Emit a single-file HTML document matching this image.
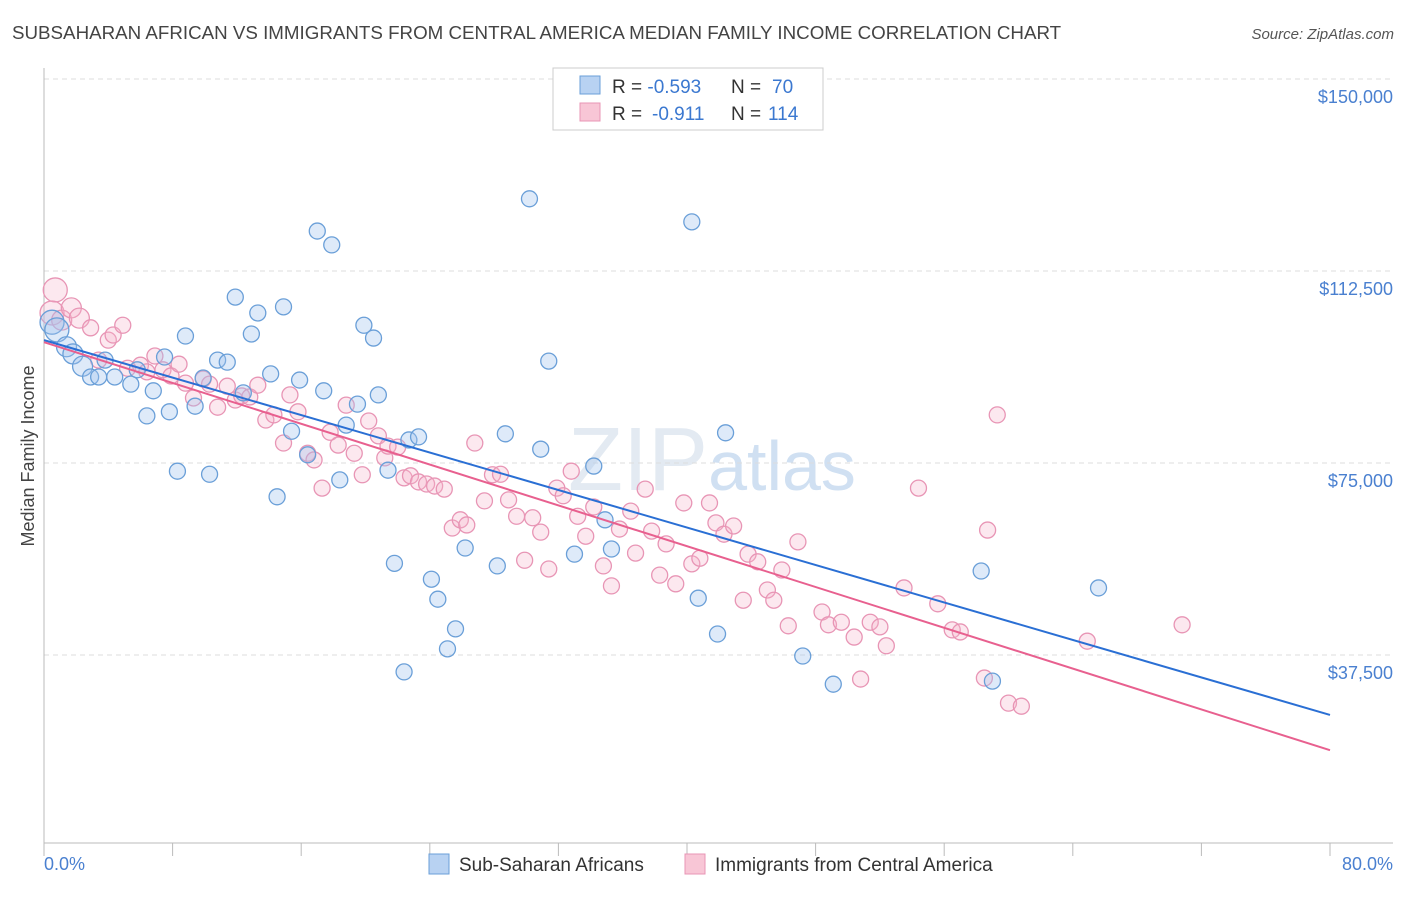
<!DOCTYPE html>
<html><head><meta charset="utf-8"><style>
body{margin:0;background:#fff;font-family:"Liberation Sans",sans-serif}
svg text{font-family:"Liberation Sans",sans-serif}
</style></head><body>
<svg id="chart" width="1406" height="892" viewBox="0 0 1406 892" xmlns="http://www.w3.org/2000/svg">
<text x="12" y="39" font-size="18.75" fill="#444">SUBSAHARAN AFRICAN VS IMMIGRANTS FROM CENTRAL AMERICA MEDIAN FAMILY INCOME CORRELATION CHART</text>
<text x="1394" y="39" font-size="15" fill="#555" text-anchor="end" font-style="italic">Source: ZipAtlas.com</text>
<text x="712" y="490" font-size="90" fill="#e3eaf2" text-anchor="middle" font-family="Liberation Serif">ZIP<tspan fill="#d0e0f2" font-family="Liberation Sans" font-size="70">atlas</tspan></text>
<g id="grid"></g><g id="axes"></g><g id="pts"></g><g id="lines"></g>
<text transform="translate(34,456) rotate(-90)" font-size="18" fill="#444" text-anchor="middle">Median Family Income</text>
<text x="44" y="870" font-size="18" fill="#4a80d0">0.0%</text>
<text x="1393" y="870" font-size="18" fill="#4a80d0" text-anchor="end">80.0%</text>
<g>
<rect x="553" y="68" width="270" height="62" fill="#fff" stroke="#ccc"/>
<rect x="580" y="76" width="20" height="18" fill="#b8d2f2" stroke="#6a9fd8"/>
<rect x="580" y="103" width="20" height="18" fill="#f8c6d6" stroke="#e895b5"/>
<text x="612" y="93" font-size="19" fill="#333">R = <tspan fill="#3b78d0">-0.593</tspan><tspan x="731">N = </tspan><tspan fill="#3b78d0" x="772">70</tspan></text>
<text x="612" y="120" font-size="19" fill="#333">R = <tspan fill="#3b78d0" x="652">-0.911</tspan><tspan x="731">N = </tspan><tspan fill="#3b78d0" x="768">114</tspan></text>
</g>
<g>
<rect x="429" y="854" width="20" height="20" fill="#b8d2f2" stroke="#6a9fd8"/>
<text x="459" y="871" font-size="19" fill="#333">Sub-Saharan Africans</text>
<rect x="685" y="854" width="20" height="20" fill="#f8c6d6" stroke="#e895b5"/>
<text x="715" y="871" font-size="19" fill="#333">Immigrants from Central America</text>
</g>
</svg>
<script>
const yTicks=[37500,75000,112500,150000];
const yTickLabels=["$37,500","$75,000","$112,500","$150,000"];
const xTicks=[0,8,16,24,32,40,48,56,64,72,80];
const blueX=[0.5,0.8,1.4,1.8,2.4,2.9,3.4,3.8,4.4,5.4,5.8,6.4,6.8,7.5,7.8,8.3,8.8,9.4,9.9,10.3,10.8,11.4,11.9,12.4,12.9,13.3,14.1,14.5,14.9,15.4,15.9,16.4,17.0,17.4,17.9,18.4,18.8,19.5,19.9,20.5,20.8,21.4,21.8,22.4,22.7,23.3,24.1,24.5,25.1,25.6,26.2,28.2,28.7,30.2,30.9,31.4,33.0,34.2,34.9,35.3,40.3,40.7,41.9,42.4,47.2,49.1,58.3,59.0,65.6];
const blueY=[102.5,101.0,97.7,96.3,93.9,91.8,91.8,95.1,91.8,90.4,93.2,84.2,89.1,95.7,85.0,73.4,99.8,86.1,91.6,72.8,95.1,94.7,107.4,88.7,100.2,104.3,92.4,68.4,105.5,81.2,91.2,76.6,120.3,89.1,117.6,71.7,82.4,86.5,101.9,99.4,88.3,73.6,55.4,34.2,79.5,80.1,52.3,48.4,38.7,42.6,58.4,54.9,80.7,126.6,77.7,94.9,57.2,74.4,63.9,58.2,122.1,48.6,41.6,80.9,37.3,31.8,53.9,32.4,50.6];
const pinkX=[0.7,0.5,1.1,1.7,2.2,2.9,3.4,4.0,4.3,4.9,5.2,6.0,6.4,6.9,7.4,7.9,8.4,8.8,9.3,9.9,10.3,10.8,11.4,11.9,12.3,12.8,13.3,13.8,14.3,14.9,15.3,15.8,16.4,16.8,17.3,17.8,18.3,18.8,19.3,19.8,20.2,20.8,21.2,21.4,22.0,22.4,22.8,23.3,23.8,24.3,24.9,25.4,25.9,26.3,26.8,27.4,27.9,28.4,28.9,29.4,29.9,30.4,30.9,31.4,31.9,32.3,32.8,33.2,33.7,34.2,34.8,35.3,35.8,36.5,36.8,37.4,37.8,38.3,38.7,39.3,39.8,40.3,40.8,41.4,41.8,42.3,42.9,43.5,43.8,44.4,45.0,45.4,45.9,46.3,46.9,48.4,48.8,49.6,50.4,50.8,51.4,52.0,52.4,53.5,54.4,55.6,56.5,57.0,58.5,58.7,59.3,60.0,60.8,64.9,70.8];
const pinkY=[108.8,104.3,102.9,105.3,103.3,101.4,95.1,99.0,100.0,101.9,93.5,94.1,92.8,95.9,93.2,92.0,94.3,90.6,87.7,91.4,90.4,85.9,90.0,87.3,88.1,87.9,90.2,83.4,84.4,78.9,88.3,85.0,76.9,75.6,70.1,81.0,78.5,86.3,76.9,72.7,83.2,80.3,76.0,78.3,78.1,72.1,72.5,71.3,70.9,70.5,69.9,62.3,63.9,62.9,78.9,67.6,72.7,72.8,67.8,64.6,56.0,64.3,61.5,54.3,70.1,68.6,73.4,64.6,60.7,66.4,54.9,51.0,62.1,65.6,57.4,69.9,61.7,53.1,59.2,51.4,67.2,55.3,56.4,67.2,63.3,61.1,62.7,48.2,57.2,55.7,50.2,48.2,54.1,43.2,59.6,45.9,43.4,43.9,41.0,32.8,43.9,43.0,39.3,50.6,70.1,47.5,42.4,42.0,33.0,61.9,84.4,28.1,27.5,40.2,43.4];
const blueTrend=[99.0,25.8];
const pinkTrend=[98.6,18.9];
const NS="http://www.w3.org/2000/svg";
const X0=44,X1=1330,YB=847,PXK=192/37.5;
function sx(p){return X0+(p/80)*(X1-X0);}
function sy(k){return YB-k*PXK;}
function mk(t,a,parent){const e=document.createElementNS(NS,t);for(const k in a)e.setAttribute(k,a[k]);parent.appendChild(e);return e;}
const grid=document.getElementById('grid'),axes=document.getElementById('axes'),pts=document.getElementById('pts'),lines=document.getElementById('lines');
yTicks.forEach((v,i)=>{const y=sy(v/1000);
const g=mk('line',{x1:44,x2:1393,y1:y,y2:y,stroke:'#ddd','stroke-dasharray':'5,4'},grid);


const t=mk('text',{x:1393,y:y+24,'font-size':18,fill:'#4a80d0','text-anchor':'end'},grid);t.textContent=yTickLabels[i];

});
const ax=mk('line',{x1:44,x2:44,y1:68,y2:843,stroke:'#bbb'},axes);


const xa=mk('line',{x1:44,x2:1393,y1:843,y2:843,stroke:'#bbb'},axes);


xTicks.forEach(v=>{const x=sx(v);const t=mk('line',{x1:x,x2:x,y1:843,y2:856,stroke:'#bbb'},axes);

});
function draw(xs,ys,stroke,fill,name){xs.forEach((x,i)=>{const r=i<2?12:(i<5?10:8);
const c=mk('circle',{cx:sx(x),cy:sy(ys[i]),r:r,fill:fill,stroke:stroke,'stroke-width':1.3},pts);

});}
draw(pinkX,pinkY,'#e895b5','rgba(244,180,203,0.3)','pink-point');
draw(blueX,blueY,'#6a9fd8','rgba(160,195,238,0.35)','blue-point');
const bl=mk('line',{x1:sx(0),y1:sy(blueTrend[0]),x2:sx(80),y2:sy(blueTrend[1]),stroke:'#2a6fd4','stroke-width':2},lines);


const pl=mk('line',{x1:sx(0),y1:sy(pinkTrend[0]),x2:sx(80),y2:sy(pinkTrend[1]),stroke:'#e8608f','stroke-width':2},lines);


</script>
</body></html>
